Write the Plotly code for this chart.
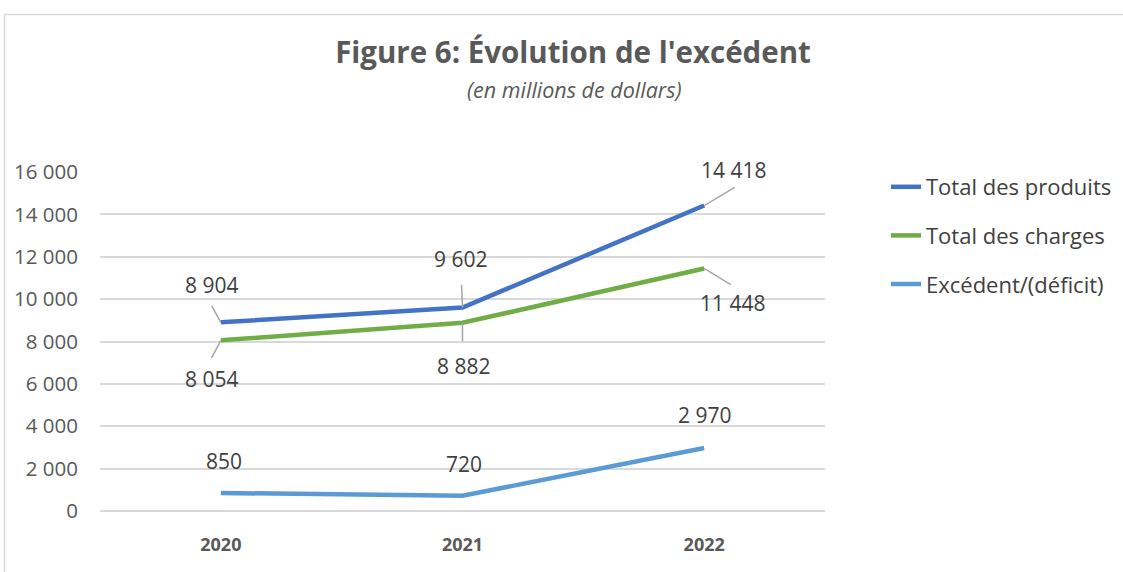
import plotly.graph_objects as go

years = ["2020", "2021", "2022"]
produits = [8904, 9602, 14418]
charges = [8054, 8882, 11448]
excedent = [850, 720, 2970]
series_names = ["Total des produits", "Total des charges", "Excédent/(déficit)"]
colors = ["#4472C4", "#70AD47", "#5B9BD5"]
y_ticks = [0, 2000, 4000, 6000, 8000, 10000, 12000, 14000, 16000]

def fmt(v):
    return f"{v:,}".replace(",", " ")

FONT = "Open Sans"
fig = go.Figure()
for i, (name, vals) in enumerate(zip(series_names, [produits, charges, excedent])):
    fig.add_trace(go.Scatter(
        x=list(range(len(years))), y=vals, mode="lines", name=name,
        line=dict(color=colors[i], width=4.5),
        legendgroup=f"g{i}", hoverinfo="skip"))

# label text offsets (dx, dy in px, screen-down positive) and leader line ends
label_off = {
    0: [(-9, -37), (-2, -49), (30, -36)],
    1: [(-9, 39), (1, 43), (29, 35)],
    2: [(3, -32), (1, -32), (0, -33)],
}
leader = {
    0: [(-10, -18), (-1, -24), (32, -19)],
    1: [(-10, 19), (0, 20), (28, 17)],
    2: [None, None, None],
}
for i, vals in enumerate([produits, charges, excedent]):
    for j, v in enumerate(vals):
        dx, dy = label_off[i][j]
        fig.add_annotation(
            x=j, y=v, text=fmt(v), showarrow=False,
            xshift=dx, yshift=-dy, xanchor="center", yanchor="middle",
            font=dict(family=FONT, size=21, color="#404040"))
        if leader[i][j] is not None:
            lx, ly = leader[i][j]
            fig.add_annotation(
                x=j, y=v, text="", showarrow=True, ax=lx, ay=ly,
                arrowhead=0, arrowwidth=1.5, arrowcolor="#A6A6A6")

fig.add_annotation(
    x=(574 - 100) / 725, y=(511 - 89) / 339, xref="paper", yref="paper",
    xanchor="center", yanchor="middle",
    text="<i>(en millions de dollars)</i>", showarrow=False,
    font=dict(family=FONT, size=21.5, color="#595959"))

fig.add_shape(type="rect", xref="paper", yref="paper",
              x0=(4.5 - 100) / 725, x1=(1140 - 100) / 725,
              y0=(511 - 600) / 339, y1=(511 - 14.5) / 339,
              line=dict(color="#D9D9D9", width=1.5), layer="below")

fig.update_layout(
    width=1123, height=572,
    paper_bgcolor="white", plot_bgcolor="white",
    margin=dict(l=100, r=298, t=172, b=61, autoexpand=False),
    title=dict(text="<b>Figure 6: Évolution de l'excédent</b>",
               x=573 / 1123, xanchor="center", y=1 - 53 / 572, yanchor="middle",
               yref="container",
               font=dict(family=FONT, size=29.5, color="#595959")),
    legend=dict(x=(886 - 100) / 725, y=(511 - 166) / 339, xanchor="left", yanchor="top",
                font=dict(family=FONT, size=22, color="#404040"),
                tracegroupgap=17, bgcolor="rgba(0,0,0,0)"),
    showlegend=True,
    xaxis=dict(range=[-0.5, 2.5], showgrid=False, zeroline=False, showline=False,
               ticks="", ticklabelstandoff=21,
               tickfont=dict(family=FONT, size=18, color="#595959"),
               tickvals=list(range(len(years))), ticktext=[f"<b>{y}</b>" for y in years]),
    yaxis=dict(range=[0, 16000], tickvals=y_ticks, ticktext=[fmt(v) for v in y_ticks],
               showgrid=True, gridcolor="#D9D9D9", gridwidth=1.5,
               zeroline=True, zerolinecolor="#D9D9D9", zerolinewidth=1.5,
               showline=False, ticks="", ticklabelstandoff=21,
               tickfont=dict(family=FONT, size=20.5, color="#595959")),
)
fig.write_html("out.html", config={"displayModeBar": False},
               post_script="document.body.style.margin='0';")
